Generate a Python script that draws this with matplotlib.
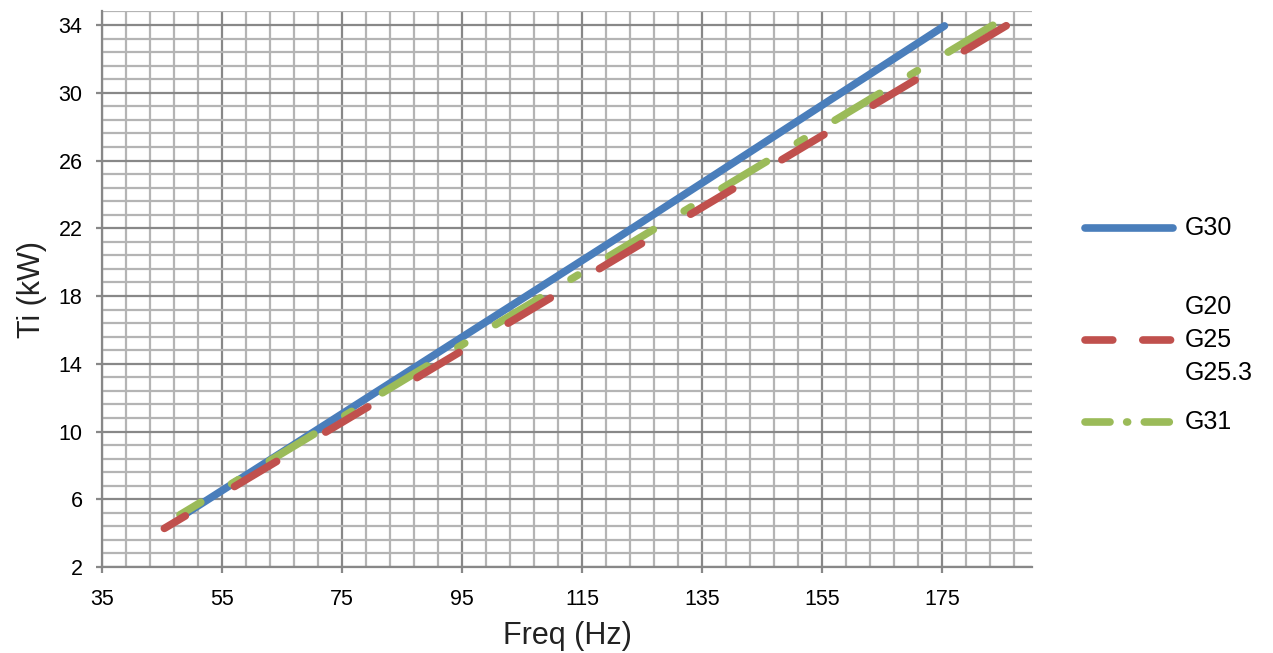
import numpy as np
import matplotlib
matplotlib.use("Agg")
import matplotlib.pyplot as plt
from matplotlib.ticker import FixedLocator
from matplotlib.lines import Line2D

plt.rcParams['font.family'] = ['Liberation Sans', 'DejaVu Sans']
plt.rcParams['lines.scale_dashes'] = False

# values
freq_g30 = [49.2, 121.2, 175.4]
ti_g30 = [5.2, 21.5, 33.95]

freq_g20 = [45.4, 110.0, 185.7]
ti_g20 = [4.28, 17.94, 33.96]

freq_g31 = [48.0, 119.0, 184.0]
ti_g31 = [5.08, 20.24, 34.1]

labels = ['G30', 'G20\nG25\nG25.3', 'G31']
colors = ['#4a7ebb', '#c0504d', '#9bbb59']

x_major = np.arange(35, 176, 20)
x_minor = np.arange(39, 190, 4)
y_major = np.arange(2, 35, 4)
y_minor = np.arange(2, 34.81, 0.8)

fig = plt.figure(figsize=(12.73, 6.53), dpi=100)
ax = fig.add_axes([0.0801, 0.1317, 0.8107 - 0.0801, 0.9824 - 0.1317])

lw = 5.5
ax.plot(freq_g30, ti_g30, color=colors[0], lw=lw, solid_capstyle='round', zorder=3)
ax.plot(freq_g31, ti_g31, color=colors[2], lw=lw, dash_capstyle='round',
        linestyle=(20.0, (37.5, 25.9, 5.8, 25.9)), zorder=4)
ax.plot(freq_g20, ti_g20, color=colors[1], lw=lw, dash_capstyle='round',
        linestyle=(17.7, (35.3, 41.2)), zorder=5)

ax.set_xlim(35, 190)
ax.set_ylim(2, 34.8)
ax.xaxis.set_major_locator(FixedLocator(x_major))
ax.xaxis.set_minor_locator(FixedLocator(x_minor))
ax.yaxis.set_major_locator(FixedLocator(y_major))
ax.yaxis.set_minor_locator(FixedLocator(y_minor))

ax.set_axisbelow(True)
ax.grid(which='minor', color='#b4b4b4', lw=1.6)
ax.grid(which='major', color='#888888', lw=1.6)
ax.tick_params(which='major', direction='out', length=4, width=1.6, color='#888888',
               labelsize=15.5, pad=10)
ax.tick_params(axis='x', which='major', pad=12)
ax.tick_params(which='minor', length=0)
for s in ['top', 'right']:
    ax.spines[s].set_visible(False)
for s in ['left', 'bottom']:
    ax.spines[s].set_color('#888888')
    ax.spines[s].set_linewidth(1.6)

ax.set_xlabel('Freq (Hz)', fontsize=22, color='#222222', labelpad=8)
ax.set_ylabel('Ti (kW)', fontsize=22, color='#222222', labelpad=8)

# legend drawn at the right side
leg_x0, leg_x1, txt_x = 1085 / 1273, 1173 / 1273, 1185 / 1273
leg_y = [1 - 228 / 653, 1 - 340 / 653, 1 - 422 / 653]
handle_styles = ['-', (0, (20, 21.6)), (0, (18, 12, 0.7, 12))]
for lab, c, ls, y in zip(labels, colors, handle_styles, leg_y):
    ln = Line2D([leg_x0, leg_x1], [y, y], transform=fig.transFigure, color=c, lw=lw,
                linestyle=ls, solid_capstyle='round', dash_capstyle='round')
    fig.add_artist(ln)
    fig.text(txt_x, y, lab, fontsize=18, va='center', ha='left', linespacing=1.45)

fig.savefig('out.png', dpi=100)
